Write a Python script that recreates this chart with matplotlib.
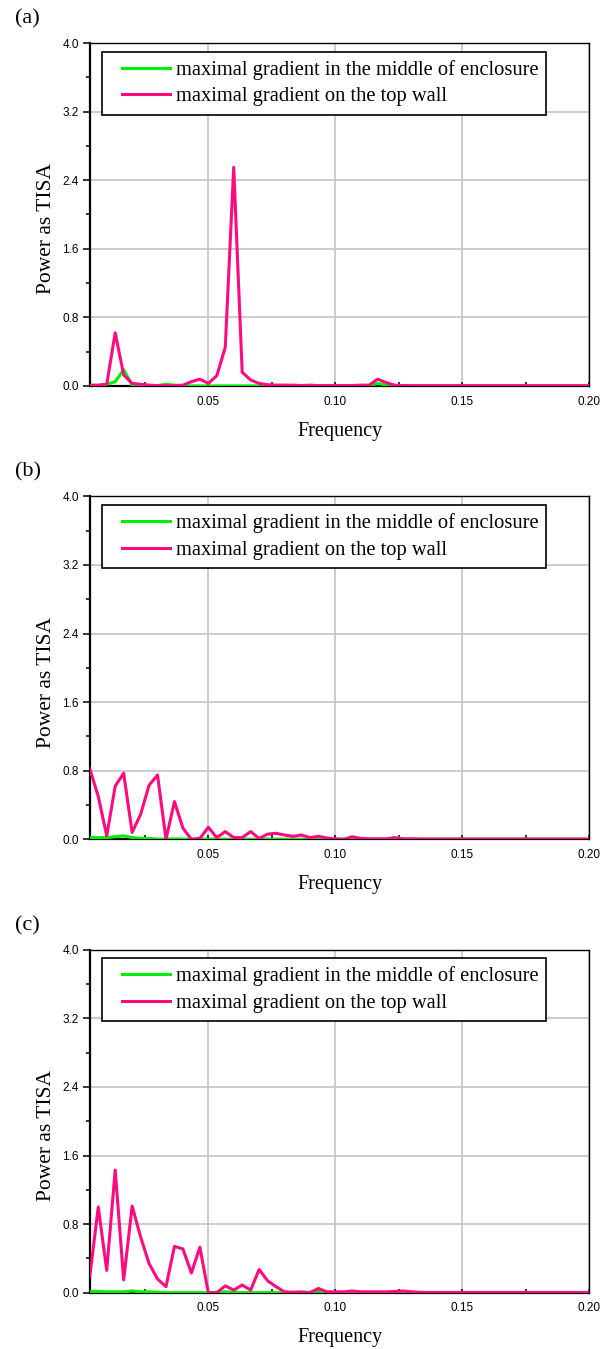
import numpy as np
import matplotlib
matplotlib.use("Agg")
import matplotlib.pyplot as plt
from matplotlib.ticker import MultipleLocator, FormatStrFormatter

# frequency grid, 60 samples at k/300
freq = np.arange(1, 61) / 300.0

pink_a = [0.01, 0.01, 0.02, 0.62, 0.13, 0.03, 0.02, 0.01, 0.005, 0.005,
          0.005, 0.01, 0.05, 0.08, 0.03, 0.12, 0.45, 2.55, 0.16, 0.07,
          0.03, 0.015, 0.01, 0.01, 0.01, 0.005, 0.01, 0.005, 0.005, 0.005,
          0.005, 0.005, 0.01, 0.01, 0.08, 0.04, 0.01, 0.005, 0.004, 0.004,
          0.004, 0.004, 0.004, 0.004, 0.004, 0.004, 0.004, 0.004, 0.004, 0.004,
          0.004, 0.004, 0.004, 0.004, 0.004, 0.004, 0.004, 0.004, 0.004, 0.004]
green_a = [0.0, 0.005, 0.02, 0.05, 0.19, 0.01, 0.0, 0.0, 0.005, 0.02,
           0.01, 0.0, 0.0, 0.0, 0.0, 0.0, 0.0, 0.0, 0.0, 0.0,
           0.0, 0.0, 0.0, 0.0, 0.0, 0.0, 0.0, 0.0, 0.0, 0.0,
           0.0, 0.0, 0.0, 0.005, 0.03, 0.01, 0.0, 0.0, 0.0, 0.0,
           0.0, 0.0, 0.0, 0.0, 0.0, 0.0, 0.0, 0.0, 0.0, 0.0,
           0.0, 0.0, 0.0, 0.0, 0.0, 0.0, 0.0, 0.0, 0.0, 0.0]

pink_b = [0.82, 0.50, 0.04, 0.62, 0.77, 0.08, 0.29, 0.63, 0.75, 0.0,
          0.44, 0.13, 0.0, 0.01, 0.14, 0.02, 0.09, 0.02, 0.02, 0.09,
          0.01, 0.06, 0.07, 0.05, 0.035, 0.05, 0.02, 0.035, 0.015, 0.005,
          0.0, 0.03, 0.01, 0.005, 0.005, 0.005, 0.02, 0.005, 0.005, 0.003,
          0.003, 0.003, 0.003, 0.003, 0.003, 0.003, 0.003, 0.003, 0.003, 0.003,
          0.003, 0.003, 0.003, 0.003, 0.003, 0.003, 0.003, 0.003, 0.003, 0.003]
green_b = [0.02, 0.02, 0.02, 0.03, 0.04, 0.02, 0.01, 0.01, 0.0, 0.0,
           0.005, 0.0, 0.0, 0.0, 0.0, 0.0, 0.0, 0.0, 0.0, 0.0,
           0.0, 0.0, 0.0, 0.0, 0.0, 0.0, 0.0, 0.0, 0.0, 0.0,
           0.0, 0.0, 0.0, 0.0, 0.0, 0.0, 0.0, 0.0, 0.0, 0.0,
           0.0, 0.0, 0.0, 0.0, 0.0, 0.0, 0.0, 0.0, 0.0, 0.0,
           0.0, 0.0, 0.0, 0.0, 0.0, 0.0, 0.0, 0.0, 0.0, 0.0]

pink_c = [0.19, 1.00, 0.26, 1.43, 0.15, 1.01, 0.65, 0.34, 0.16, 0.07,
          0.54, 0.51, 0.23, 0.53, 0.0, 0.0, 0.08, 0.03, 0.09, 0.03,
          0.27, 0.14, 0.07, 0.01, 0.005, 0.01, 0.0, 0.05, 0.01, 0.01,
          0.01, 0.02, 0.01, 0.01, 0.01, 0.01, 0.015, 0.02, 0.01, 0.005,
          0.003, 0.003, 0.003, 0.003, 0.003, 0.003, 0.003, 0.003, 0.003, 0.003,
          0.003, 0.003, 0.003, 0.003, 0.003, 0.003, 0.003, 0.003, 0.003, 0.003]
green_c = [0.015, 0.015, 0.01, 0.01, 0.01, 0.02, 0.01, 0.01, 0.005, 0.0,
           0.0, 0.0, 0.0, 0.0, 0.0, 0.005, 0.01, 0.005, 0.0, 0.0,
           0.0, 0.0, 0.0, 0.0, 0.0, 0.0, 0.005, 0.02, 0.005, 0.0,
           0.0, 0.0, 0.0, 0.0, 0.0, 0.0, 0.0, 0.0, 0.0, 0.0,
           0.0, 0.0, 0.0, 0.0, 0.0, 0.0, 0.0, 0.0, 0.0, 0.0,
           0.0, 0.0, 0.0, 0.0, 0.0, 0.0, 0.0, 0.0, 0.0, 0.0]

panels = ["(a)", "(b)", "(c)"]
pinks = [pink_a, pink_b, pink_c]
greens = [green_a, green_b, green_c]
labels = ["maximal gradient in the middle of enclosure",
          "maximal gradient on the top wall"]

serif = ["Liberation Serif", "DejaVu Serif"]
sans = ["Liberation Sans", "DejaVu Sans"]

fig = plt.figure(figsize=(6.08, 13.49), dpi=100)
W, H = 608.0, 1349.0
left, right = 89.8, 589.3
bottoms = [386.0, 839.3, 1292.7]
ax_h = 343.0

for i in range(3):
    b = bottoms[i]
    ax = fig.add_axes([left / W, 1 - b / H, (right - left) / W, ax_h / H])
    ax.plot(freq, greens[i], color="#00ee00", lw=2.2, zorder=3)
    ax.plot(freq, pinks[i], color="#ff0a80", lw=2.2, zorder=4)
    ax.set_xlim(1 / 300, 0.2)
    ax.set_ylim(0, 4.0)

    ax.xaxis.set_major_locator(MultipleLocator(0.05))
    ax.xaxis.set_minor_locator(MultipleLocator(0.025))
    ax.xaxis.set_major_formatter(FormatStrFormatter("%.2f"))
    ax.yaxis.set_major_locator(MultipleLocator(0.8))
    ax.yaxis.set_minor_locator(MultipleLocator(0.4))
    ax.yaxis.set_major_formatter(FormatStrFormatter("%.1f"))

    ax.tick_params(axis="x", which="both", direction="in", length=3.2,
                   width=1.1, pad=7, labelsize=8.5)
    ax.tick_params(axis="y", which="major", direction="out", length=5,
                   width=1.1, pad=3, labelsize=8.5)
    ax.tick_params(axis="y", which="minor", direction="out", length=3,
                   width=1.1)
    for lab in ax.get_xticklabels() + ax.get_yticklabels():
        lab.set_family(sans)

    ax.grid(True, which="major", color="#c4c4c4", lw=1.2, zorder=0)
    ax.set_axisbelow(True)
    for s in ["left", "bottom"]:
        ax.spines[s].set_linewidth(1.6)
    for s in ["top", "right"]:
        ax.spines[s].set_linewidth(1.0)

    ax.set_xlabel("Frequency", family=serif, fontsize=14.5, labelpad=10)
    ax.set_ylabel("Power as TISA", family=serif, fontsize=15.5)
    ax.yaxis.set_label_coords(-0.068, 0.458)

    leg = ax.legend(labels, loc="upper left", bbox_to_anchor=(0.024, 0.975),
                    borderaxespad=0, fancybox=False, framealpha=1,
                    edgecolor="black", handlelength=2.94, handletextpad=0.25,
                    labelspacing=0.36, borderpad=0.4,
                    prop={"family": serif, "size": 14.8})
    leg.get_frame().set_linewidth(1.2)
    # leave a gap before each legend line, as in the original
    for hl in leg.legend_handles:
        xd = np.asarray(hl.get_xdata(), dtype=float)
        x0 = xd[0] + 0.2 * (xd[-1] - xd[0])
        hl.set_xdata(np.linspace(x0, xd[-1], len(xd)))

    fig.text(15 / W, 1 - (b - ax_h - 24) / H, panels[i], family=serif,
             fontsize=16, va="center", ha="left")

fig.savefig("out.png", dpi=100)
